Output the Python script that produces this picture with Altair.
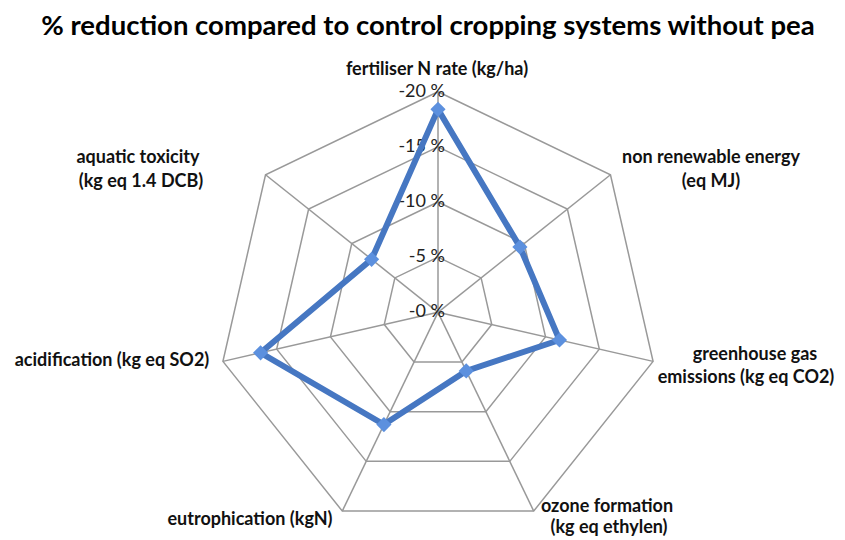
import math
import altair as alt
import pandas as pd

# ---- data ----
categories = [
    "fertiliser N rate (kg/ha)",
    "non renewable energy (eq MJ)",
    "greenhouse gas emissions (kg eq CO2)",
    "ozone formation (kg eq ethylen)",
    "eutrophication (kgN)",
    "acidification (kg eq SO2)",
    "aquatic toxicity (kg eq 1.4 DCB)",
]
values = [-18.4, -9.5, -11.3, -5.9, -11.3, -16.5, -7.7]
ring_values = [-5, -10, -15, -20]
tick_values = [-20, -15, -10, -5, 0]
tick_labels = ["-20 %", "-15 %", "-10 %", "-5 %", "-0 %"]
title_text = "% reduction compared to control cropping systems without pea"

# category label lines (text, page x, page y) -- layout
label_lines = [
    ("fertiliser N rate (kg/ha)", 437, 70),
    ("non renewable energy", 711, 158),
    ("(eq MJ)", 711, 182),
    ("greenhouse gas", 755, 355),
    ("emissions (kg eq CO2)", 746, 378),
    ("ozone formation", 607, 507),
    ("(kg eq  ethylen)", 609, 528),
    ("eutrophication (kgN)", 250, 520),
    ("acidification (kg eq SO2)", 112, 361),
    ("aquatic toxicity", 138, 158),
    ("(kg eq  1.4 DCB)", 141, 182),
]

# ---- layout ----
W, H = 829, 531
K = 11.03            # px per percent
CX, CY = 438, 312.3  # page coords of centre
OX, OY = 8, 8        # page margin
xdom = [-(CX - OX) / K, (OX + W - CX) / K]
ydom = [(CY - (OY + H)) / K, (CY - OY) / K]
n = len(categories)


def ang(i):
    return 2 * math.pi * i / n


def px2u(px, py):
    return (px - CX) / K, (CY - py) / K


X = alt.X("x:Q", scale=alt.Scale(domain=xdom, nice=False, zero=False), axis=None)
Y = alt.Y("y:Q", scale=alt.Scale(domain=ydom, nice=False, zero=False), axis=None)

# rings
ring_rows = []
for rv in ring_values:
    r = abs(rv)
    for j in range(n + 1):
        i = j % n
        ring_rows.append({"ring": rv, "o": j, "x": r * math.sin(ang(i)), "y": r * math.cos(ang(i))})
rings = alt.Chart(pd.DataFrame(ring_rows)).mark_line(
    color="#999999", strokeWidth=1.5
).encode(x=X, y=Y, detail="ring:N", order="o:Q")

# spokes
rmax = abs(min(ring_values))
spoke_rows = [
    {"x": 0, "y": 0, "x2": rmax * math.sin(ang(i)), "y2": rmax * math.cos(ang(i))}
    for i in range(n)
]
spokes = alt.Chart(pd.DataFrame(spoke_rows)).mark_rule(
    color="#999999", strokeWidth=1.5
).encode(x=X, y=Y, x2="x2:Q", y2="y2:Q")

# tick labels
tx, _ = px2u(445, 0)
tick_df = pd.DataFrame({"t": tick_labels, "v": tick_values})
tick_df["x"] = tx
tick_df["y"] = tick_df["v"].abs()
ticks = alt.Chart(tick_df).mark_text(
    align="right", baseline="middle", font="Lato", fontSize=18, color="#222222"
).encode(x=X, y=Y, text="t:N")

# series
ser_rows = []
for j in range(n + 1):
    i = j % n
    r = abs(values[i])
    ser_rows.append({"o": j, "cat": categories[i], "v": values[i],
                     "x": r * math.sin(ang(i)), "y": r * math.cos(ang(i))})
ser_df = pd.DataFrame(ser_rows)
line = alt.Chart(ser_df).mark_line(
    color="#4677C2", strokeWidth=6, strokeJoin="miter"
).encode(x=X, y=Y, order="o:Q")
pts = alt.Chart(ser_df.iloc[:n]).mark_point(
    shape="diamond", filled=True, size=230, color="#5C90DE", opacity=1
).encode(x=X, y=Y)

# category labels
lab_rows = []
for t, px, py in label_lines:
    ux, uy = px2u(px, py)
    lab_rows.append({"t": t, "x": ux, "y": uy})
labels = alt.Chart(pd.DataFrame(lab_rows)).mark_text(
    align="center", baseline="middle", font="Lato", fontSize=18,
    fontWeight="bold", color="#111111"
).encode(x=X, y=Y, text="t:N")

# title
tx0, ty0 = px2u(428, 27)
title = alt.Chart(pd.DataFrame({"t": [title_text], "x": [tx0], "y": [ty0]})).mark_text(
    align="center", baseline="middle", font="Lato", fontSize=27.5,
    fontWeight="bold", color="#000000"
).encode(x=X, y=Y, text="t:N")

chart = alt.layer(rings, spokes, ticks, line, pts, labels, title).properties(
    width=W, height=H, padding=0, autosize="none", background="white"
).configure_view(stroke=None)

chart.save("out.html", embed_options={"renderer": "svg", "actions": False})
